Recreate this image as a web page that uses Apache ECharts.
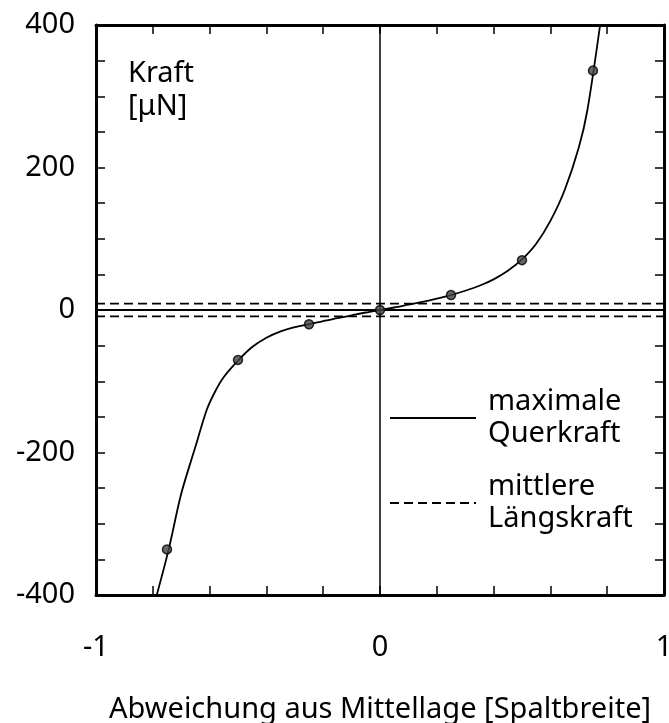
<!DOCTYPE html>
<html>
<head>
<meta charset="utf-8">
<script src="https://cdn.jsdelivr.net/npm/echarts@6/dist/echarts.min.js"></script>
<style>
  html, body { margin: 0; padding: 0; background: #fff; }
  #chart { width: 669px; height: 723px; }
</style>
</head>
<body>
<div id="chart"></div>
<script>
// Kraft über Auslenkung
const curveX = [-0.786, -0.744, -0.70, -0.65, -0.61, -0.58, -0.55, -0.50, -0.45, -0.40, -0.35, -0.30, -0.25,
  -0.20, -0.15, -0.10, -0.05, 0, 0.05, 0.10, 0.15, 0.20, 0.25, 0.30, 0.35, 0.40, 0.45, 0.50, 0.55, 0.60,
  0.65, 0.70, 0.73, 0.775];
const curveY = [-400, -336, -258, -192, -140, -114, -94, -71, -52, -39, -30, -24, -20,
  -15.5, -11.5, -7.5, -3.5, 0, 3.5, 7.5, 11.5, 16, 21, 27, 34, 43, 55, 71, 93, 125,
  168, 228, 280, 400];

// Messpunkte
const pointX = [-0.75, -0.5, -0.25, 0, 0.25, 0.5, 0.75];
const pointY = [-336, -70, -20, 0, 21, 70, 336];

// Horizontale Bezugslinien
const querLevels = [0];        // maximale Querkraft (durchgezogen)
const laengsLevels = [9, -9];  // mittlere Längskraft (gestrichelt)

// Achsen
const xRange = [-1, 1];
const yRange = [-400, 400];
const xLabels = [-1, 0, 1];
const yLabels = [-400, -200, 0, 200, 400];

const FONT = '"Noto Sans", "DejaVu Sans", sans-serif';
const FS = 29;

const curveData = curveX.map((x, i) => [x, curveY[i]]);
const pointData = pointX.map((x, i) => [x, pointY[i]]);

// eine Linie pro Niveau über die volle Breite, mit null getrennt
const levelLine = (levels) => {
  let out = [];
  levels.forEach((v, i) => {
    if (i > 0) out.push([null, null]);
    out.push([xRange[0], v], [xRange[1], v]);
  });
  return out;
};

const myChart = echarts.init(document.getElementById('chart'), null, { renderer: 'canvas' });

const frame = { show: true, onZero: false, lineStyle: { color: '#000', width: 3 } };
const tick = { show: true, inside: true, length: 9, lineStyle: { color: '#000', width: 1.5 } };

const option = {
  animation: false,
  backgroundColor: '#fff',
  color: ['#000'],
  textStyle: { fontFamily: FONT },
  title: {
    text: 'Kraft\n[μN]',
    left: 123,
    top: 52,
    textStyle: { fontFamily: FONT, fontSize: FS, fontWeight: 'normal', color: '#000', lineHeight: 33 },
  },
  legend: {
    orient: 'vertical',
    left: 384,
    top: 381,
    itemWidth: 86,
    itemHeight: 14,
    itemGap: 21,
    itemStyle: { opacity: 0 },
    data: ['maximale Querkraft', 'mittlere Längskraft'],
    formatter: (name) => name.replace(' ', '\n'),
    textStyle: { fontFamily: FONT, fontSize: FS, color: '#000', lineHeight: 32, padding: [0, 0, 0, 7] },
  },
  grid: { left: 96, right: 5, top: 25, bottom: 128, containLabel: false, outerBoundsMode: 'none' },
  xAxis: [
    {
      type: 'value',
      min: xRange[0],
      max: xRange[1],
      interval: 1,
      position: 'bottom',
      axisLine: frame,
      axisTick: tick,
      minorTick: { show: true, splitNumber: 5, length: 9, lineStyle: { color: '#000', width: 1.5 } },
      splitLine: { show: false },
      axisLabel: {
        margin: 38,
        fontFamily: FONT,
        fontSize: FS,
        color: '#000',
        formatter: (v) => (xLabels.includes(v) ? String(v) : ''),
      },
      name: 'Abweichung aus Mittellage [Spaltbreite]',
      nameLocation: 'middle',
      nameGap: 100,
      nameTextStyle: { fontFamily: FONT, fontSize: FS, color: '#000' },
    },
    {
      type: 'value',
      min: xRange[0],
      max: xRange[1],
      interval: 1,
      position: 'top',
      axisLine: frame,
      axisTick: tick,
      minorTick: { show: true, splitNumber: 5, length: 9, lineStyle: { color: '#000', width: 1.5 } },
      splitLine: { show: false },
      axisLabel: { show: false },
    },
  ],
  yAxis: [
    {
      type: 'value',
      min: yRange[0],
      max: yRange[1],
      interval: 200,
      position: 'left',
      axisLine: frame,
      axisTick: tick,
      minorTick: { show: true, splitNumber: 4, length: 9, lineStyle: { color: '#000', width: 1.5 } },
      splitLine: { show: false },
      axisLabel: {
        margin: 21,
        fontFamily: FONT,
        fontSize: FS,
        color: '#000',
        formatter: (v) => (yLabels.includes(v) ? String(v) : ''),
      },
    },
    {
      type: 'value',
      min: yRange[0],
      max: yRange[1],
      interval: 200,
      position: 'right',
      axisLine: frame,
      axisTick: tick,
      minorTick: { show: true, splitNumber: 4, length: 9, lineStyle: { color: '#000', width: 1.5 } },
      splitLine: { show: false },
      axisLabel: { show: false },
    },
  ],
  series: [
    {
      // senkrechte Nulllinie
      name: 'nulllinie',
      type: 'line',
      data: [[0, yRange[0]], [0, yRange[1]]],
      symbol: 'none',
      silent: true,
      color: '#000',
      lineStyle: { color: '#000', width: 1.5 },
      z: 1,
    },
    {
      name: 'maximale Querkraft',
      type: 'line',
      data: levelLine(querLevels),
      symbol: 'none',
      connectNulls: false,
      color: '#000',
      lineStyle: { color: '#000', width: 1.8 },
      z: 2,
    },
    {
      name: 'mittlere Längskraft',
      type: 'line',
      data: levelLine(laengsLevels),
      symbol: 'none',
      connectNulls: false,
      color: '#000',
      lineStyle: { color: '#000', width: 1.8, type: [9, 5] },
      z: 2,
    },
    {
      // Kennlinie
      name: 'kurve',
      type: 'line',
      data: curveData,
      symbol: 'none',
      smooth: 0.3,
      color: '#000',
      lineStyle: { color: '#000', width: 1.8 },
      z: 3,
    },
    {
      name: 'messpunkte',
      type: 'scatter',
      data: pointData,
      symbol: 'circle',
      symbolSize: 9,
      itemStyle: { color: '#444', borderColor: '#000', borderWidth: 1.5 },
      z: 4,
    },
  ],
};

myChart.setOption(option);
</script>
</body>
</html>
